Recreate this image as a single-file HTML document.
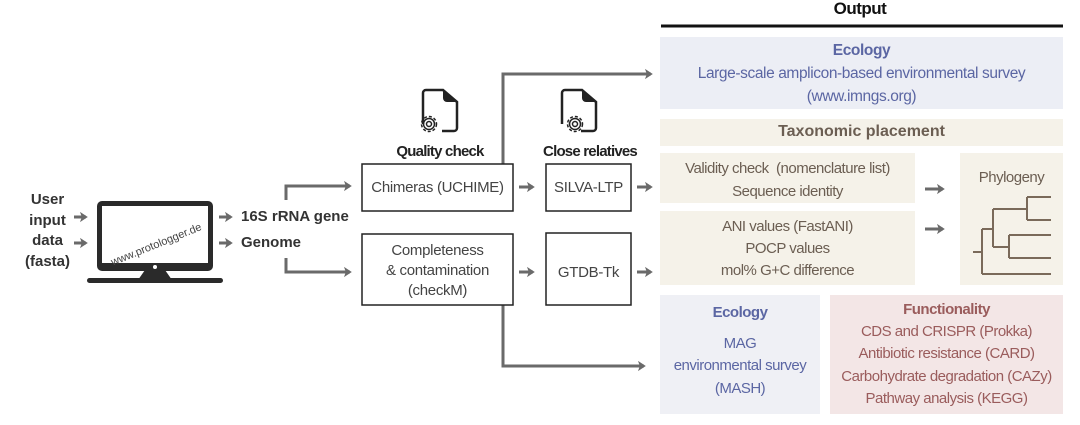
<!DOCTYPE html>
<html><head><meta charset="utf-8"><style>
body{margin:0;background:#fff;}
#c{position:relative;width:1080px;height:425px;overflow:hidden;font-family:"Liberation Sans",sans-serif;}
.t{position:absolute;text-align:center;white-space:nowrap;}
</style></head><body><div id="c">
<svg width="1080" height="425" style="position:absolute;left:0;top:0">
<defs><marker id="a" markerWidth="4" markerHeight="4" refX="2" refY="2" orient="auto" markerUnits="strokeWidth"><path d="M0,0.3 L2.6,2 L0,3.7 L0.6,2 Z" fill="#6a6a6a"/></marker></defs>
<rect x="660" y="37" width="403" height="72" fill="#eceef5"/>
<rect x="660" y="119" width="403" height="27" fill="#f5f2e9"/>
<rect x="660" y="153" width="255" height="50" fill="#f5f2e9"/>
<rect x="660" y="211" width="255" height="74" fill="#f5f2e9"/>
<rect x="960" y="153" width="103" height="132" fill="#f5f2e9"/>
<rect x="660" y="295" width="160" height="119" fill="#eff0f5"/>
<rect x="830" y="295" width="233" height="119" fill="#f3e6e6"/>
<line x1="661" y1="26" x2="1063" y2="26" stroke="#111" stroke-width="3"/>
<g stroke="#6a6a6a" stroke-width="3" fill="none">
<line x1="74" y1="217" x2="86" y2="217" marker-end="url(#a)"/>
<line x1="74" y1="243" x2="86" y2="243" marker-end="url(#a)"/>
<line x1="219" y1="217" x2="231" y2="217" marker-end="url(#a)"/>
<line x1="219" y1="243" x2="231" y2="243" marker-end="url(#a)"/>
<polyline points="286,200 286,186 350,186" marker-end="url(#a)"/>
<polyline points="286,258 286,272 350,272" marker-end="url(#a)"/>
<line x1="519" y1="187" x2="533" y2="187" marker-end="url(#a)"/>
<line x1="519" y1="272" x2="533" y2="272" marker-end="url(#a)"/>
<line x1="637" y1="187" x2="651" y2="187" marker-end="url(#a)"/>
<line x1="637" y1="272" x2="651" y2="272" marker-end="url(#a)"/>
<polyline points="503,305 503,366 644,366" marker-end="url(#a)"/>
<polyline points="503,164 503,74 651,74" marker-end="url(#a)"/>
<line x1="925" y1="189" x2="943" y2="189" marker-end="url(#a)"/>
<line x1="925" y1="229" x2="943" y2="229" marker-end="url(#a)"/>
</g>
<g stroke="#222" stroke-width="1.5" fill="#fff">
<rect x="362" y="164" width="151" height="47"/>
<rect x="362" y="234" width="151" height="71"/>
<rect x="546" y="164" width="85" height="47"/>
<rect x="546" y="233" width="85" height="72"/>
</g>
<g stroke="#7a6a5a" stroke-width="2" fill="none">
<path d="M973,252 H982 M982,229 V274 M982,229 H993 M982,274 H1051 M993,209 V247 M993,209 H1027 M1027,197 V220 M1027,197 H1051 M1027,220 H1051 M993,247 H1009 M1009,235 V258 M1009,235 H1051 M1009,258 H1051"/>
</g>
<rect x="97" y="201" width="116" height="70" rx="5" fill="#2a2a2a"/>
<rect x="102" y="206" width="106" height="57" fill="#fff"/>
<circle cx="155" cy="267" r="2" fill="#fff"/>
<path d="M145,270 L165,270 L172,280 L138,280 Z" fill="#2a2a2a"/>
<rect x="87" y="278" width="136" height="5" rx="2.5" fill="#2a2a2a"/>
<text x="156" y="248" font-size="11" fill="#444" text-anchor="middle" transform="rotate(-22 156 244)" font-family="Liberation Sans">www.protologger.de</text>
<g stroke="#222" stroke-width="2.5" fill="none">
<path d="M423,124 V93 a3,3 0 0 1 3,-3 H443 L457,102 V128 a3,3 0 0 1 -3,3 H442"/>
<path d="M562,124 V93 a3,3 0 0 1 3,-3 H582 L596,102 V128 a3,3 0 0 1 -3,3 H581"/>
</g>
<path d="M443,90 L457,102 H447 a4,4 0 0 1 -4,-4 Z" fill="#222"/>
<path d="M582,90 L596,102 H586 a4,4 0 0 1 -4,-4 Z" fill="#222"/>
<g fill="none" stroke="#222" stroke-width="1.5">
<circle cx="429" cy="124" r="7.5" stroke-dasharray="3 2"/><circle cx="429" cy="124" r="5.5"/><circle cx="429" cy="124" r="2.5"/>
<circle cx="575" cy="124" r="7.5" stroke-dasharray="3 2"/><circle cx="575" cy="124" r="5.5"/><circle cx="575" cy="124" r="2.5"/>
</g>
</svg>
<div class="t" style="left:0;width:95px;top:190px;font-size:15px;font-weight:bold;color:#333;line-height:20.7px">User<br>input<br>data<br>(fasta)</div>
<div class="t" style="left:241px;top:208px;font-size:15px;font-weight:bold;color:#333;text-align:left">16S rRNA gene</div>
<div class="t" style="left:241px;top:234px;font-size:15px;font-weight:bold;color:#333;text-align:left">Genome</div>
<div class="t" style="left:370px;width:140px;top:143px;font-size:15px;font-weight:bold;color:#222;letter-spacing:-0.8px">Quality check</div>
<div class="t" style="left:525px;width:130px;top:143px;font-size:15px;font-weight:bold;color:#222;letter-spacing:-0.8px">Close relatives</div>
<div class="t" style="left:362px;width:151px;top:179px;font-size:15px;color:#444;letter-spacing:-0.3px">Chimeras (UCHIME)</div>
<div class="t" style="left:362px;width:151px;top:241px;font-size:15px;color:#444;line-height:20px;letter-spacing:-0.3px">Completeness<br>&amp; contamination<br>(checkM)</div>
<div class="t" style="left:546px;width:85px;top:179px;font-size:15px;color:#444;letter-spacing:-0.3px">SILVA-LTP</div>
<div class="t" style="left:546px;width:85px;top:264px;font-size:15px;color:#444;letter-spacing:-0.3px">GTDB-Tk</div>
<div class="t" style="left:760px;width:200px;top:-1px;font-size:17px;font-weight:bold;color:#111;letter-spacing:-0.5px">Output</div>
<div class="t" style="left:660px;width:403px;top:39px;font-size:15.5px;color:#5b66a3;line-height:23px;letter-spacing:-0.4px"><b>Ecology</b><br>Large-scale amplicon-based environmental survey<br>(www.imngs.org)</div>
<div class="t" style="left:660px;width:403px;top:123px;font-size:16px;font-weight:bold;color:#6b5e52">Taxonomic placement</div>
<div class="t" style="left:660px;width:255px;top:157px;font-size:15px;color:#6b5e52;line-height:23px;letter-spacing:-0.5px">Validity check &nbsp;(nomenclature list)<br>Sequence identity</div>
<div class="t" style="left:660px;width:255px;top:216px;font-size:15px;color:#6b5e52;line-height:22px;letter-spacing:-0.5px">ANI values (FastANI)<br>POCP values<br>mol% G+C difference</div>
<div class="t" style="left:960px;width:103px;top:169px;font-size:15px;color:#6b5e52;letter-spacing:-0.5px">Phylogeny</div>
<div class="t" style="left:660px;width:160px;top:302px;font-size:15px;color:#5b66a3;line-height:22.5px;letter-spacing:-0.5px"><b>Ecology</b><br><span style="display:inline-block;margin-top:8px">MAG</span><br>environmental survey<br>(MASH)</div>
<div class="t" style="left:830px;width:233px;top:299px;font-size:15px;color:#9a5c5c;line-height:22.2px;letter-spacing:-0.5px"><b>Functionality</b><br>CDS and CRISPR (Prokka)<br>Antibiotic resistance (CARD)<br>Carbohydrate degradation (CAZy)<br>Pathway analysis (KEGG)</div>
</div></body></html>
